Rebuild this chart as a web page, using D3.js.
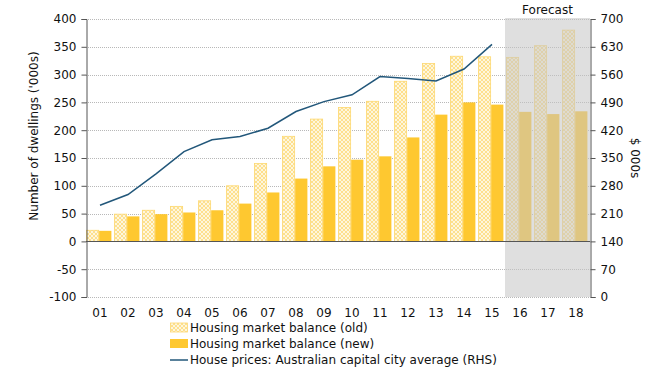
<!DOCTYPE html>
<html>
<head>
<meta charset="utf-8">
<script src="https://cdn.jsdelivr.net/npm/d3@7"></script>
<style>
  body { margin: 0; background: #fff; }
  text { font-family: Verdana, "DejaVu Sans", sans-serif; fill: #111; }
</style>
</head>
<body>
<div id="chart"></div>
<script>
var categories = ['01','02','03','04','05','06','07','08','09','10','11','12','13','14','15','16','17','18'];
var oldBalance = [20, 49, 56, 63, 73, 100, 140, 189, 220, 241, 252, 288, 320, 333, 332, 331, 352, 380];
var newBalance = [19, 45, 49, 52, 56, 68, 88, 113, 135, 147, 153, 187, 228, 250, 246, 233, 229, 234];
var housePrices = [231, 258, 310, 366, 396, 404, 425, 467, 492, 509, 555, 550, 544, 574, 636];
var forecastCats = ['16', '17', '18'];
var leftTicks = [-100, -50, 0, 50, 100, 150, 200, 250, 300, 350, 400];
var rightTicks = [0, 70, 140, 210, 280, 350, 420, 490, 560, 630, 700];
var legendLabels = ['Housing market balance (old)', 'Housing market balance (new)', 'House prices: Australian capital city average (RHS)'];

var attrs = {
  width: 662,
  height: 373,
  left: 86,
  right: 590,
  top: 19,
  bottom: 297,
  fontSize: 12,
  newColor: '#FEC830',
  oldColor: '#FDE08E',
  lineColor: '#22577A'
};

var svg = d3.select('#chart').append('svg')
  .attr('width', attrs.width)
  .attr('height', attrs.height);

// crosshatch pattern for the old series
var defs = svg.append('defs');
var pat = defs.append('pattern')
  .attr('id', 'hatch')
  .attr('patternUnits', 'userSpaceOnUse')
  .attr('width', 4).attr('height', 4);
pat.append('rect').attr('width', 4).attr('height', 4).attr('fill', attrs.oldColor);
pat.append('path').attr('d', 'M0,2 L2,0 L4,2 L2,4 Z').attr('fill', 'none').attr('stroke', '#fff').attr('stroke-width', 0.7);

var x = d3.scaleBand().domain(categories).range([attrs.left, attrs.right]);
var x1 = d3.scaleBand().domain(['old', 'new']).range([0.4, 25.4]).paddingInner(0.04);
var yL = d3.scaleLinear().domain([-100, 400]).range([attrs.bottom, attrs.top]);
var yR = d3.scaleLinear().domain([0, 700]).range([attrs.bottom, attrs.top]);

// gridlines
svg.append('g')
  .selectAll('line')
  .data(leftTicks.filter(function (d) { return d !== 0; }))
  .join('line')
  .attr('x1', attrs.left).attr('x2', attrs.right)
  .attr('y1', function (d) { return Math.round(yL(d)) + 0.5; })
  .attr('y2', function (d) { return Math.round(yL(d)) + 0.5; })
  .attr('stroke', '#b8b8b8')
  .attr('stroke-dasharray', '1,1');

// bars
var groups = svg.append('g')
  .selectAll('g')
  .data(categories)
  .join('g')
  .attr('transform', function (d) { return 'translate(' + x(d) + ',0)'; });

groups.append('rect')
  .attr('x', x1('old'))
  .attr('width', x1.bandwidth())
  .attr('y', function (d, i) { return yL(oldBalance[i]); })
  .attr('height', function (d, i) { return yL(0) - yL(oldBalance[i]); })
  .attr('fill', 'url(#hatch)')
  .attr('stroke', '#FDD870')
  .attr('stroke-width', 0.8);

groups.append('rect')
  .attr('x', x1('new'))
  .attr('width', x1.bandwidth())
  .attr('y', function (d, i) { return yL(newBalance[i]); })
  .attr('height', function (d, i) { return yL(0) - yL(newBalance[i]); })
  .attr('fill', attrs.newColor);

// forecast shading
var fx0 = x(forecastCats[0]) - 1;
svg.append('rect')
  .attr('x', fx0)
  .attr('y', attrs.top - 1)
  .attr('width', attrs.right - fx0)
  .attr('height', attrs.bottom - attrs.top + 1)
  .attr('fill', 'rgb(196,196,196)')
  .attr('fill-opacity', 0.55);

svg.append('text')
  .attr('x', (fx0 + attrs.right) / 2)
  .attr('y', 14)
  .attr('text-anchor', 'middle')
  .attr('font-size', attrs.fontSize)
  .text('Forecast');

// zero line
svg.append('line')
  .attr('x1', attrs.left).attr('x2', attrs.right)
  .attr('y1', Math.round(yL(0)) + 0.5).attr('y2', Math.round(yL(0)) + 0.5)
  .attr('stroke', '#555');

// house price line
var line = d3.line()
  .x(function (d, i) { return x(categories[i]) + x.bandwidth() / 2; })
  .y(function (d) { return yR(d); });

svg.append('path')
  .datum(housePrices)
  .attr('d', line)
  .attr('fill', 'none')
  .attr('stroke', attrs.lineColor)
  .attr('stroke-width', 1.5);

// axes
var leftAxis = svg.append('g')
  .attr('transform', 'translate(' + (attrs.left + 0.5) + ',0)')
  .call(d3.axisLeft(yL).tickValues(leftTicks).tickFormat(String).tickSize(5).tickPadding(5));
var rightAxis = svg.append('g')
  .attr('transform', 'translate(' + (attrs.right + 0.5) + ',0)')
  .call(d3.axisRight(yR).tickValues(rightTicks).tickFormat(String).tickSize(5).tickPadding(5));

[leftAxis, rightAxis].forEach(function (a) {
  a.select('.domain').attr('stroke', '#555');
  a.selectAll('.tick line').attr('stroke', '#555');
  a.selectAll('.tick text')
    .attr('font-size', attrs.fontSize)
    .attr('font-family', 'Verdana, "DejaVu Sans", sans-serif')
    .attr('fill', '#111');
});

// category labels
svg.append('g')
  .selectAll('text')
  .data(categories)
  .join('text')
  .attr('x', function (d) { return x(d) + x.bandwidth() / 2; })
  .attr('y', 317)
  .attr('text-anchor', 'middle')
  .attr('font-size', attrs.fontSize)
  .text(function (d) { return d; });

// axis titles
svg.append('text')
  .attr('transform', 'translate(38,136) rotate(-90)')
  .attr('text-anchor', 'middle')
  .attr('font-size', attrs.fontSize)
  .text("Number of dwellings ('000s)");

svg.append('text')
  .attr('transform', 'translate(631,158) rotate(90)')
  .attr('text-anchor', 'middle')
  .attr('font-size', attrs.fontSize)
  .text('$ 000s');

// legend
var legend = svg.append('g').attr('transform', 'translate(170,0)');
var rows = [328, 344, 360];

legend.append('rect')
  .attr('x', 0.5).attr('y', rows[0] - 5)
  .attr('width', 17).attr('height', 9)
  .attr('fill', 'url(#hatch)')
  .attr('stroke', '#FDD870')
  .attr('stroke-width', 0.8);
legend.append('rect')
  .attr('x', 0).attr('y', rows[1] - 5)
  .attr('width', 18).attr('height', 9)
  .attr('fill', attrs.newColor);
legend.append('line')
  .attr('x1', 0).attr('x2', 18)
  .attr('y1', rows[2]).attr('y2', rows[2])
  .attr('stroke', attrs.lineColor)
  .attr('stroke-width', 1.5);

legend.selectAll('text.lbl')
  .data(legendLabels)
  .join('text')
  .attr('class', 'lbl')
  .attr('x', 20)
  .attr('y', function (d, i) { return rows[i] + 4; })
  .attr('font-size', attrs.fontSize)
  .text(function (d) { return d; });
</script>
</body>
</html>
